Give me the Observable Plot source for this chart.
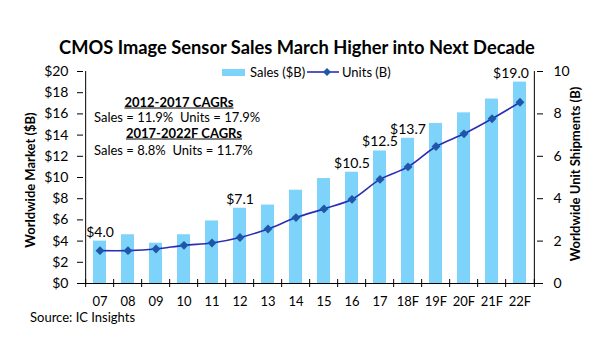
<!DOCTYPE html>
<html>
<head>
<meta charset="utf-8">
<script src="https://cdn.jsdelivr.net/npm/d3@7"></script>
<script src="https://cdn.jsdelivr.net/npm/@observablehq/plot@0.6"></script>
<style>
  html, body { margin: 0; padding: 0; background: #fff; }
  #wrap { position: relative; width: 600px; height: 350px; font-family: Lato, "Open Sans", sans-serif; color: #000; overflow: hidden; }
  #wrap svg { position: absolute; left: 0; top: 0; }
  .t { position: absolute; white-space: pre; line-height: 1; }
  .c { transform: translate(-50%, -50%); }
  .l { transform: translate(0, -50%); }
  .r90 { transform: translate(-50%, -50%) rotate(-90deg); }
</style>
</head>
<body>
<div id="wrap"></div>
<script>
// ---- data ----
const years = ["07","08","09","10","11","12","13","14","15","16","17","18F","19F","20F","21F","22F"];
const sales = [4.0, 4.6, 3.8, 4.6, 5.9, 7.1, 7.4, 8.8, 9.9, 10.5, 12.5, 13.7, 15.1, 16.1, 17.4, 19.0];
const units = [1.55, 1.55, 1.63, 1.8, 1.91, 2.17, 2.57, 3.11, 3.52, 3.97, 4.91, 5.5, 6.46, 7.06, 7.77, 8.55];
const salesTicks = [0, 2, 4, 6, 8, 10, 12, 14, 16, 18, 20];
const unitTicks = [0, 2, 4, 6, 8, 10];
const labeledYears = ["07", "12", "16", "17", "18F"];
const edgeLabelYears = ["22F"];
const title = "CMOS Image Sensor Sales March Higher into Next Decade";
const cagrLines = ["2012-2017 CAGRs", "Sales = 11.9%  Units = 17.9%", "2017-2022F CAGRs", "Sales = 8.8%  Units = 11.7%"];
const legendItems = ["Sales ($B)", "Units (B)"];
const yLeftLabel = "Worldwide Market ($B)";
const yRightLabel = "Worldwide Unit Shipments (B)";
const source = "Source: IC Insights";

// ---- styles ----
const barColor = "#7dd3fa";
const lineColor = "#2b2db4";
const dotColor = "#1f57a8";
const unitToSales = 2; // right axis 0..10 maps onto left axis 0..20

const data = years.map((y, i) => ({year: y, sales: sales[i], units: units[i]}));

const W = 600, H = 350, mL = 80, mR = 61, mT = 71, mB = 67;
const step = (W - mL - mR) / years.length;

const chart = Plot.plot({
  width: W, height: H,
  marginTop: mT, marginBottom: mB, marginLeft: mL, marginRight: mR,
  style: {fontFamily: "Lato, 'Open Sans', sans-serif", fontSize: "13px", color: "#000", background: "transparent"},
  x: {domain: years, paddingInner: 0.55, paddingOuter: 0.275},
  y: {domain: [0, 20]},
  marks: [
    Plot.barY(data, {x: "year", y: "sales", fill: barColor}),
    Plot.ruleY([0], {stroke: "#000", strokeWidth: 1}),
    Plot.ruleX([years[0]], {x: d => d, dx: -step / 2, y1: 0, y2: 20, stroke: "#000"}),
    Plot.ruleX([years[years.length - 1]], {x: d => d, dx: step / 2, y1: 0, y2: 20, stroke: "#000"}),
    Plot.ruleX(years, {x: d => d, dx: -step / 2, y1: -0.38, y2: 0.38, stroke: "#000"}),
    Plot.ruleX([years[years.length - 1]], {x: d => d, dx: step / 2, y1: -0.38, y2: 0.38, stroke: "#000"}),
    Plot.line(data, {x: "year", y: d => d.units * unitToSales, stroke: lineColor, strokeWidth: 1.6, curve: "catmull-rom"}),
    Plot.dot(data, {x: "year", y: d => d.units * unitToSales, symbol: "diamond2", r: 4, fill: dotColor, stroke: "none"}),
    Plot.text(data.filter(d => labeledYears.includes(d.year)), {x: "year", y: "sales", text: d => "$" + d.sales.toFixed(1), dy: -9, fontSize: 14}),
    Plot.text(data.filter(d => edgeLabelYears.includes(d.year)), {x: "year", y: "sales", text: d => "$" + d.sales.toFixed(1), dy: -9, dx: -9, fontSize: 14}),
    Plot.axisY(salesTicks, {anchor: "left", tickSize: 6, dx: 3, tickFormat: () => "", label: null}),
    Plot.axisY(salesTicks, {anchor: "left", tickSize: 0, tickPadding: 12, tickFormat: d => "$" + d, fontSize: 14, label: null}),
    Plot.axisY(unitTicks.map(u => u * unitToSales), {anchor: "right", tickSize: 6, dx: -3, tickFormat: () => "", label: null}),
    Plot.axisY(unitTicks.map(u => u * unitToSales), {anchor: "right", tickSize: 0, tickPadding: 14, tickFormat: d => String(d / unitToSales), fontSize: 14, label: null}),
    Plot.axisX({tickSize: 0, tickPadding: 13, fontSize: 13, label: null})
  ]
});

const wrap = document.getElementById("wrap");
wrap.appendChild(chart);

function addText(txt, x, y, cls, css) {
  const d = document.createElement("div");
  d.className = "t " + cls;
  d.textContent = txt;
  d.style.left = x + "px";
  d.style.top = y + "px";
  Object.assign(d.style, css || {});
  wrap.appendChild(d);
  return d;
}

addText(title, 297, 47, "c", {fontSize: "18.3px", fontWeight: "bold"});

// legend
const sw = document.createElement("div");
Object.assign(sw.style, {position: "absolute", left: "222px", top: "69px", width: "23px", height: "7px", background: barColor});
wrap.appendChild(sw);
addText(legendItems[0], 250, 72, "l", {fontSize: "13px"});
const ls = document.createElementNS("http://www.w3.org/2000/svg", "svg");
ls.setAttribute("width", "34"); ls.setAttribute("height", "12");
Object.assign(ls.style, {left: "306px", top: "66px"});
ls.innerHTML = `<line x1="1" y1="6" x2="33" y2="6" stroke="${lineColor}" stroke-width="1.6"/><path d="M21,2 L25,6 L21,10 L17,6 Z" fill="${dotColor}"/>`;
wrap.appendChild(ls);
addText(legendItems[1], 342, 72, "l", {fontSize: "13px"});

// CAGR annotation
addText(cagrLines[0], 179, 102, "c", {fontSize: "13px", fontWeight: "bold", textDecoration: "underline"});
addText(cagrLines[1], 94, 117, "l", {fontSize: "13px"});
addText(cagrLines[2], 184, 133, "c", {fontSize: "13px", fontWeight: "bold", textDecoration: "underline"});
addText(cagrLines[3], 94, 150, "l", {fontSize: "13px"});

// axis titles
addText(yLeftLabel, 30, 180, "r90", {fontSize: "13px", fontWeight: "bold"});
addText(yRightLabel, 575, 174, "r90", {fontSize: "13px", fontWeight: "bold"});

addText(source, 30, 317, "l", {fontSize: "13px"});
</script>
</body>
</html>
